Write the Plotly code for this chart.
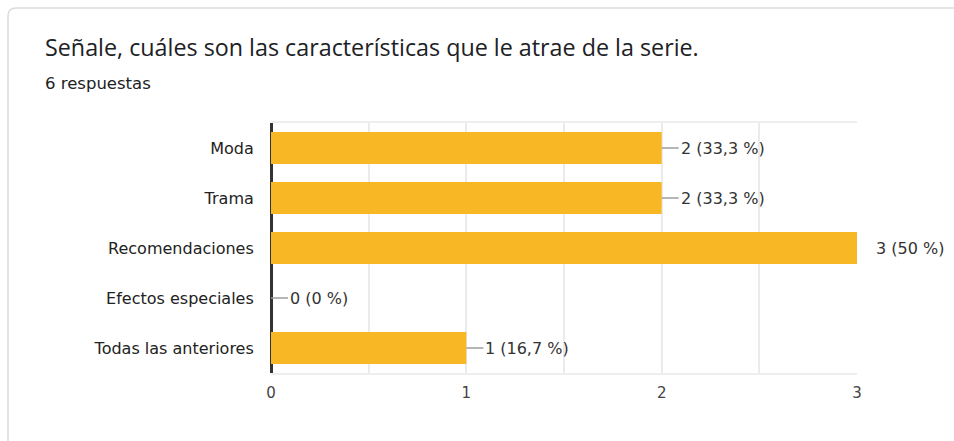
import plotly.graph_objects as go

categories = ["Moda", "Trama", "Recomendaciones", "Efectos especiales", "Todas las anteriores"]
counts = [2, 2, 3, 0, 1]
labels = ["2 (33,3 %)", "2 (33,3 %)", "3 (50 %)", "0 (0 %)", "1 (16,7 %)"]
title_text = "Señale, cuáles son las características que le atrae de la serie."
subtitle_text = "6 respuestas"
x_ticks = [0, 1, 2, 3]

W, H = 954, 441
L, R, T, B = 271, 97, 123, 68
pw, ph = W - L - R, H - T - B

def px(x):
    return (x - L) / pw

def py(y):
    return (H - B - y) / ph

pos = list(range(len(categories)))

fig = go.Figure()
fig.add_trace(go.Bar(
    x=counts, y=pos, orientation="h",
    marker=dict(color="#F8B725", line=dict(width=0)),
    width=0.64, hoverinfo="skip",
))

shapes = []
annotations = []
for i, (v, lab) in enumerate(zip(counts, labels)):
    shapes.append(dict(type="line", xref="x", yref="y", xsizemode="pixel", xanchor=v,
                       x0=0, x1=17, y0=i, y1=i, line=dict(color="#9e9e9e", width=1.5)))
    annotations.append(dict(x=v, y=i, xref="x", yref="y", text=lab, showarrow=False,
                            xanchor="left", yanchor="middle", xshift=17,
                            font=dict(family="DejaVu Sans", size=16, color="#333333")))

# card border
r = 8
x0, x1 = px(8), px(W + 20)
y0, y1 = py(8), py(H + 20)
rx, ry = r / pw, r / ph
path = (f"M {x0},{y1} L {x0},{y0 - ry} Q {x0},{y0} {x0 + rx},{y0} "
        f"L {x1},{y0}")
shapes.insert(0, dict(type="path", xref="paper", yref="paper", path=path,
                      line=dict(color="#dadce0", width=1.5), layer="below"))

annotations.append(dict(x=px(43), y=py(47), xref="paper", yref="paper", text=title_text,
                        showarrow=False, xanchor="left", yanchor="middle",
                        font=dict(family="Open Sans", size=23.3, color="#202124")))
annotations.append(dict(x=px(43), y=py(83), xref="paper", yref="paper", text=subtitle_text,
                        showarrow=False, xanchor="left", yanchor="middle",
                        font=dict(family="DejaVu Sans", size=16.5, color="#202124")))

fig.update_layout(
    width=W, height=H,
    margin=dict(l=L, r=R, t=T, b=B, pad=0),
    paper_bgcolor="white", plot_bgcolor="white",
    showlegend=False,
    shapes=shapes, annotations=annotations,
    xaxis=dict(range=[0, 3], tickvals=x_ticks, ticktext=[str(t) for t in x_ticks],
               showgrid=True, gridcolor="#ebebeb", gridwidth=2,
               minor=dict(dtick=0.5, showgrid=True, gridcolor="#ebebeb", gridwidth=2),
               zeroline=True, zerolinecolor="#333333", zerolinewidth=2.5,
               showline=True, linecolor="#eeeeee", linewidth=1.5, mirror=True,
               ticks="outside", ticklen=5, tickcolor="rgba(0,0,0,0)",
               tickfont=dict(family="DejaVu Sans", size=15, color="#444444"),
               fixedrange=True),
    yaxis=dict(range=[4.5, -0.5], tickvals=pos, ticktext=categories,
               showgrid=False, zeroline=False, showline=False,
               ticks="outside", ticklen=13, tickcolor="rgba(0,0,0,0)",
               tickfont=dict(family="DejaVu Sans", size=16, color="#222222"),
               fixedrange=True),
)

fig.write_html("out.html", config={"displayModeBar": False},
               post_script="document.body.style.margin='0';document.body.style.padding='0';")
